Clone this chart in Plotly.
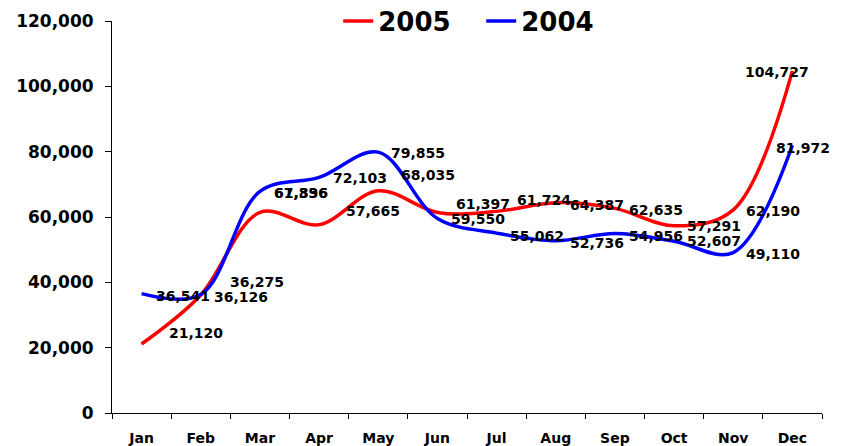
import plotly.graph_objects as go

months = ["Jan", "Feb", "Mar", "Apr", "May", "Jun", "Jul", "Aug", "Sep", "Oct", "Nov", "Dec"]
sales_2005 = [21120, 36126, 61396, 57665, 68035, 61397, 61724, 64387, 62635, 57291, 62190, 104727]
sales_2004 = [36541, 36275, 67836, 72103, 79855, 59550, 55062, 52736, 54956, 52607, 49110, 81972]
y_ticks = [0, 20000, 40000, 60000, 80000, 100000, 120000]

# label placement styling (pixel nudges, like manually moved Excel labels)
lab_dx_2005 = [25, 11, 12, 25, 21, 17, 18, 12, 12, 11, 11, -15]
lab_dy_2005 = [11, -2, 19, 14, 16, 8, 11, -2, -2, 0, -1, -1]
lab_dx_2004 = [12, 27, 12, 12, 11, 12, 11, 12, 12, 11, 11, 11]
lab_dy_2004 = [-2, 13, -2, -1, -1, -1, -3, -2, -3, 0, -1, -3]

FONT = "DejaVu Sans"

fig = go.Figure()
fig.add_trace(go.Scatter(x=months, y=sales_2005, name="2005", mode="lines",
                         line=dict(color="#FF0000", width=3.5, shape="spline", smoothing=1.0)))
fig.add_trace(go.Scatter(x=months, y=sales_2004, name="2004", mode="lines",
                         line=dict(color="#0000FF", width=3.5, shape="spline", smoothing=1.0)))

annotations = []
for vals, dxs, dys in [(sales_2005, lab_dx_2005, lab_dy_2005), (sales_2004, lab_dx_2004, lab_dy_2004)]:
    for i, (m, v) in enumerate(zip(months, vals)):
        last = i == len(months) - 1
        annotations.append(dict(
            x=m, y=v, xref="x", yref="y", text=f"{v:,}", showarrow=False,
            xanchor="center" if last else "left", yanchor="middle",
            xshift=dxs[i], yshift=dys[i],
            font=dict(family=FONT, size=14, color="black", weight="bold"),
        ))

fig.update_layout(
    width=844, height=446,
    margin=dict(l=104, r=30, t=13, b=41, autoexpand=False),
    paper_bgcolor="white", plot_bgcolor="white",
    showlegend=True,
    legend=dict(orientation="h", x=0.52, xanchor="center", y=1.0, yanchor="middle",
                font=dict(family=FONT, size=26, color="black", weight="bold"),
                bgcolor="rgba(0,0,0,0)", entrywidth=98, tracegroupgap=0),
    annotations=annotations,
    xaxis=dict(type="category", range=[-0.5, 11.5], showline=True, linecolor="black", linewidth=1,
               ticks="outside", ticklen=5, tickcolor="black", tickson="boundaries",
               showgrid=False, zeroline=False, ticklabelstandoff=12,
               tickfont=dict(family=FONT, size=14, color="black", weight="bold")),
    yaxis=dict(range=[0, 120000], tickvals=y_ticks, tickformat=",d",
               showline=True, linecolor="black", linewidth=1,
               ticks="outside", ticklen=6, tickcolor="black",
               showgrid=False, zeroline=False, ticklabelstandoff=8,
               tickfont=dict(family=FONT, size=17, color="black", weight="bold")),
)

fig.write_html("out.html")
